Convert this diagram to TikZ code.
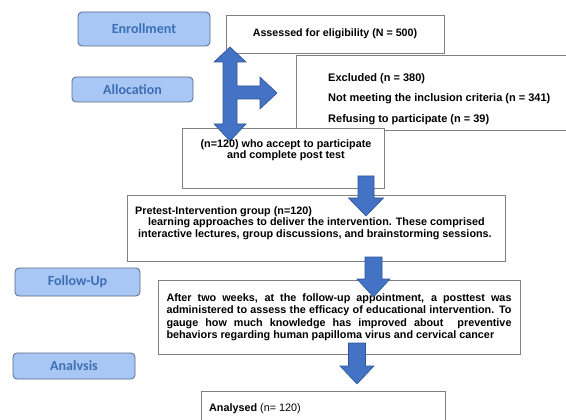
\documentclass[tikz,border=0pt]{standalone}
\usepackage{fontspec}
\setmainfont{Liberation Sans}
\newfontfamily\stagefont{Carlito}

\definecolor{stagefill}{HTML}{A9C7F5}
\definecolor{stageline}{HTML}{56698A}
\definecolor{stagetext}{HTML}{3C6EB4}
\definecolor{arrowfill}{HTML}{4472C4}
\definecolor{arrowline}{HTML}{2F5597}
\definecolor{boxline}{HTML}{808080}

\tikzset{
  stage/.style={draw=stageline, fill=stagefill, rounded corners=4pt, line width=0.8pt,
    text=stagetext, font=\stagefont\bfseries\fontsize{14}{16}\selectfont, inner sep=0pt},
  infobox/.style={draw=boxline, fill=white, line width=0.9pt, inner sep=0pt},
  infotext/.style={font=\bfseries\fontsize{10.8}{12.5}\selectfont, inner sep=0pt},
  blockarrow/.style={draw=arrowline, fill=arrowfill, line width=0.6pt, line join=miter}
}

\begin{document}
\begin{tikzpicture}[x=1pt,y=-1pt]
  \clip (0,0) rectangle (566,420);
  \fill[white] (0,0) rectangle (566,420);
  % stage labels on the left
  \node[stage, minimum width=132pt, minimum height=34pt] (enroll) at (144,29) {Enrollment};
  \node[stage, minimum width=121pt, minimum height=25pt] (alloc) at (132.5,89.5) {Allocation};
  \node[stage, minimum width=125pt, minimum height=28pt] (followup) at (77.5,282) {Follow-Up};
  \node[stage, minimum width=122pt, minimum height=26pt] (analysis) at (74,366) {Analvsis};
  % boxes of the flow
  \node[infobox, infotext, font=\bfseries\fontsize{10.7}{12.5}\selectfont, minimum width=218pt, minimum height=38pt] (assess) at (335,34)
    {Assessed for eligibility (N = 500)};
  \node[infobox, anchor=north west, minimum width=300pt, minimum height=75pt] (excl) at (296,55) {};
  \node[infotext, font=\bfseries\fontsize{11}{20.5}\selectfont, anchor=north west, align=left] (excltext) at (328,73)
    {Excluded (n = 380)\\Not meeting the inclusion criteria (n = 341)\\Refusing to participate (n = 39)};
  \node[infobox, minimum width=202pt, minimum height=60pt] (accept) at (283,158) {};
  \node[infobox, anchor=north west, minimum width=378pt, minimum height=66pt] (pretest) at (127,195) {};
  \node[infotext, font=\bfseries\fontsize{10.8}{11.7}\selectfont, anchor=north west, align=left] (pretesttext) at (135,206)
    {Pretest-Intervention group (n=120)\\
     \hspace*{13pt}learning approaches to deliver the intervention. These comprised\\
     \hspace*{3pt}interactive lectures, group discussions, and brainstorming sessions.};
  \node[infobox, infotext, minimum width=362pt, minimum height=74pt, text width=345pt, align=justify] (posttest) at (339,317)
    {After two weeks, at the follow-up appointment, a posttest was\linebreak
     administered to assess the efficacy of educational intervention. To\linebreak
     gauge how much knowledge has improved about \ preventive\linebreak
     behaviors regarding human papilloma virus and cervical cancer};
  \node[infobox, anchor=north west, minimum width=244pt, minimum height=60pt] (analysed) at (201,391) {};
  \node[font=\fontsize{10.8}{12}\selectfont, anchor=west, inner sep=0pt] (analysedtext) at (209,409)
    {\textbf{Analysed} (n= 120)};
  % three way arrow: up, down and right
  \draw[blockarrow] (230,47) -- (246,62) -- (237,62) -- (237,86) -- (260,86) -- (260,77)
    -- (277,93) -- (260,109) -- (260,99) -- (237,99) -- (237,124) -- (246,124) -- (230,141)
    -- (214,124) -- (223,124) -- (223,62) -- (214,62) -- cycle;
  % down arrows between the boxes
  \foreach \cx/\ytop/\ybase/\ytip/\sw/\hw in {366/176/198/216/8/17.5, 373.5/257/279/297/8.5/16.5, 357/343/366/384/8.5/17} {
    \draw[blockarrow] (\cx-\sw,\ytop) -- (\cx+\sw,\ytop) -- (\cx+\sw,\ybase) -- (\cx+\hw,\ybase)
      -- (\cx,\ytip) -- (\cx-\hw,\ybase) -- (\cx-\sw,\ybase) -- cycle;
  }
  \node[infotext, align=center, font=\bfseries\fontsize{10.8}{11.5}\selectfont] (accepttext) at (286,150)
    {(n=120) who accept to participate\\and complete post test};
\end{tikzpicture}
\end{document}
